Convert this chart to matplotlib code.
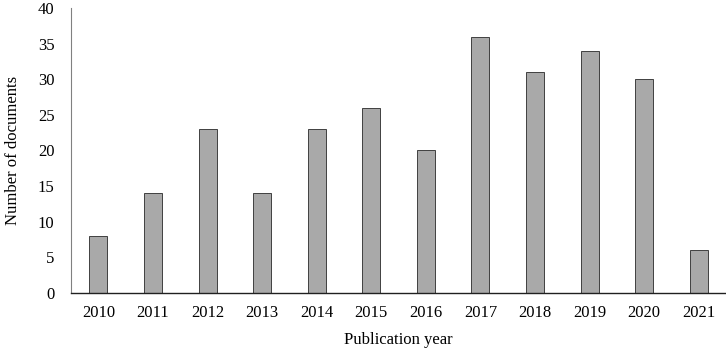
import matplotlib
matplotlib.use("Agg")
import matplotlib.pyplot as plt

years = ["2010", "2011", "2012", "2013", "2014", "2015", "2016", "2017", "2018", "2019", "2020", "2021"]
documents = [8, 14, 23, 14, 23, 26, 20, 36, 31, 34, 30, 6]
y_ticks = [0, 5, 10, 15, 20, 25, 30, 35, 40]

plt.rcParams['font.family'] = ['Liberation Serif', 'DejaVu Serif']

fig = plt.figure(figsize=(7.26, 3.52), dpi=100)
ax = fig.add_axes([0.098, 0.168, 0.902, 0.809])
x = range(len(years))
ax.bar(x, documents, width=0.33, color='#a9a9a9', edgecolor='#404040', linewidth=0.7)
ax.set_xlim(-0.5, len(years) - 0.5)
ax.set_ylim(0, 40)
ax.set_yticks(y_ticks)
ax.set_xticks(list(x))
ax.set_xticklabels(years)
ax.tick_params(axis='both', length=0, labelsize=12, pad=12)
ax.tick_params(axis='x', pad=9)
for s in ['top', 'right']:
    ax.spines[s].set_visible(False)
ax.spines['left'].set_color('#808080')
ax.spines['left'].set_linewidth(0.8)
ax.spines['bottom'].set_color('#202020')
ax.spines['bottom'].set_linewidth(1.0)
ax.set_ylabel("Number of documents", fontsize=12, labelpad=12)
ax.set_xlabel("Publication year", fontsize=12, labelpad=8)
fig.savefig("out.png", dpi=100)
